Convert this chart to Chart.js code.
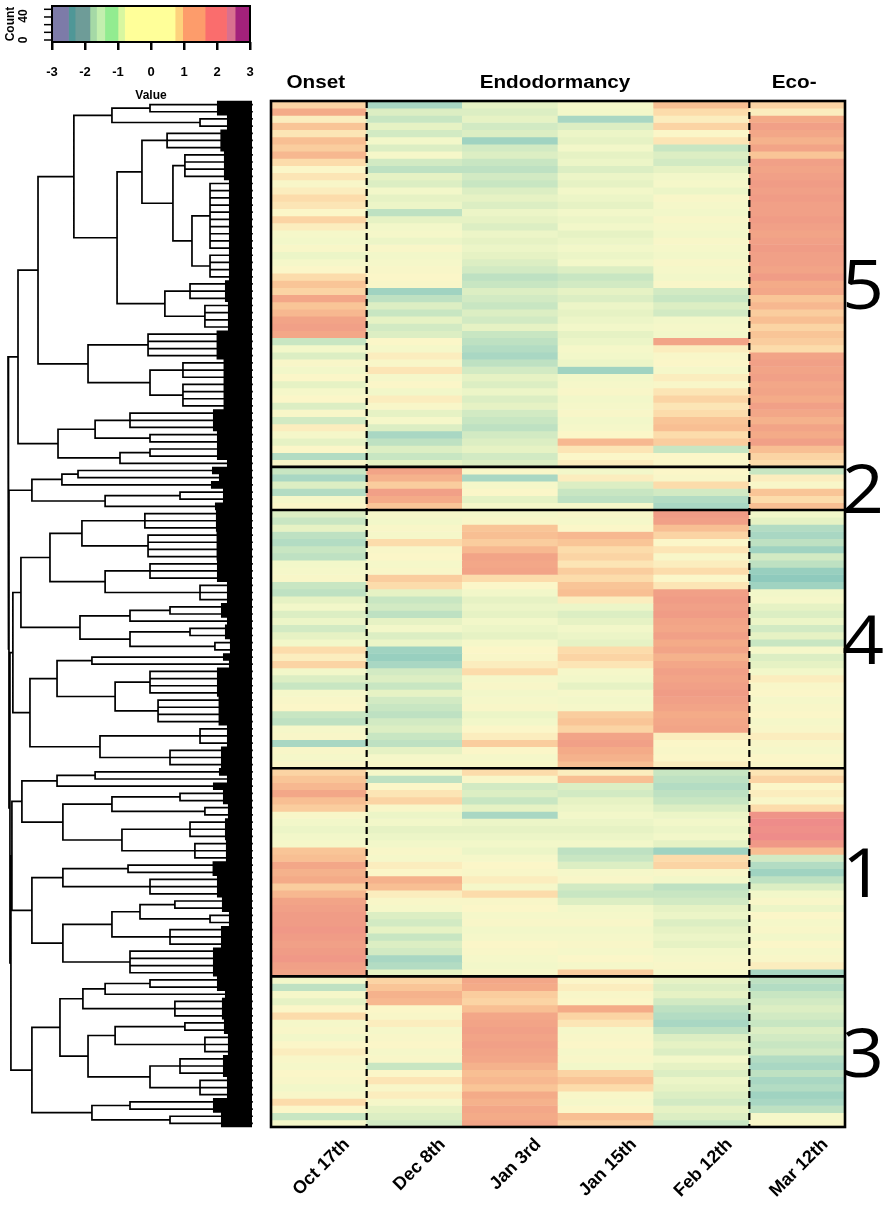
<!DOCTYPE html>
<html>
<head>
<meta charset="utf-8">
<script src="https://cdn.jsdelivr.net/npm/chart.js@4.4.1/dist/chart.umd.min.js"></script>
<style>
  body { margin: 0; background: #fff; }
  #wrap { position: relative; width: 886px; height: 1207px; overflow: hidden; background: #fff; }
  canvas { position: absolute; }
</style>
</head>
<body>
<div id="wrap">
  <canvas id="dend" width="270" height="1207" style="left:0;top:0;width:270px;height:1207px"></canvas>
  <canvas id="heat" width="626" height="1207" style="left:260px;top:0;width:626px;height:1207px"></canvas>
  <canvas id="key" width="270" height="110" style="left:0;top:0;width:270px;height:110px"></canvas>
</div>
<script>
// ---------------- DATA ----------------
const timepoints = ['Oct 17th', 'Dec 8th', 'Jan 3rd', 'Jan 15th', 'Feb 12th', 'Mar 12th'];
const phases = ['Onset', 'Endodormancy', 'Eco-'];
const phaseFirst = [0, 1, 5];
const phaseLast = [0, 4, 5];
const clusterNames = ['5', '2', '4', '1', '3'];
const clusterSizes = [51, 6, 36, 29, 21];

// row z-scores per time point (rows ordered top to bottom)
const oct17 = [
  0.7,1.3,0.4,0.9,0.5,1.0,0.8,1.1,0.6,0.3, 0.5,0.2,0.4,0.6,0.5,0.3,0.7,0.4,0.1,0.0,
  0.2,-0.1,0.1,0.3,0.6,0.9,0.7,1.4,0.9,1.1, 1.5,1.6,1.4,-0.5,0.0,-0.3,0.2,0.0,0.3,-0.2,
  0.1,0.3,-0.3,0.2,-0.4,0.4,0.1,-0.2,0.3,-0.7, 0.2,
  -0.5,-0.8,-0.3,-0.7,0.1,0.3,
  -0.3,-0.5,-0.2,-0.6,-0.7,-0.5,-0.6,0.0,0.1,0.2, -0.5,-0.6,-0.2,0.0,-0.3,-0.1,-0.4,-0.2,0.0,0.6,
  0.4,0.7,0.0,-0.3,-0.5,0.1,0.2,0.3,-0.5,-0.6, 0.1,0.2,-0.8,0.2,0.1,0.3,
  0.7,0.9,1.1,1.4,1.0,0.8,0.2,0.0,-0.1,0.0, 0.1,0.9,1.0,1.4,1.2,1.3,0.8,1.1,1.5,1.6,
  1.7,1.7,1.8,1.7,1.6,1.7,1.8,1.6,1.5,
  0.0,-0.6,0.1,-0.2,0.3,0.6,0.1,0.2,0.0,0.3, 0.4,0.2,0.1,0.3,0.2,0.0,0.2,0.6,0.3,-0.5, 0.1
];
const dec8 = [
  -0.8,-0.3,-0.5,-0.2,-0.4,0.0,-0.3,0.1,-0.4,-0.6, -0.2,-0.3,0.0,-0.2,-0.1,-0.6,-0.2,0.0,0.1,-0.1,
  0.2,0.0,0.1,0.2,0.3,0.2,-0.9,-0.6,-0.3,-0.5, -0.2,-0.4,-0.3,0.3,0.1,0.4,0.2,0.5,0.1,0.3,
  0.0,0.4,0.2,-0.2,0.1,-0.3,-0.8,-0.6,-0.3,-0.5, -0.2,
  1.5,1.2,0.8,1.6,1.3,0.9,
  0.1,0.0,0.2,0.1,0.6,0.2,0.3,0.1,0.2,0.8, 0.6,-0.2,-0.5,-0.4,-0.6,-0.2,0.0,-0.3,-0.1,-0.9,
  -1.0,-0.8,-0.4,-0.3,-0.5,-0.2,-0.4,-0.5,-0.6,-0.4, -0.3,-0.5,-0.6,-0.2,0.1,0.2,
  0.1,-0.6,0.3,0.5,0.7,0.2,-0.1,0.0,-0.2,-0.1, 0.0,0.2,0.1,0.4,0.3,1.2,1.0,0.4,0.2,0.1,
  -0.3,-0.4,-0.2,-0.5,-0.3,-0.4,-0.8,-0.7,-0.2,
  0.7,0.9,1.2,1.1,0.3,0.2,0.4,0.1,0.2,0.3, 0.1,0.2,-0.5,0.3,0.5,0.2,0.4,0.1,-0.2,-0.3, -0.4
];
const jan3 = [
  -0.2,-0.3,-0.2,-0.4,-0.3,-0.9,-0.4,-0.3,-0.5,-0.6, -0.4,-0.5,-0.3,-0.2,-0.3,-0.1,-0.2,-0.3,-0.1,-0.2,
  -0.1,-0.2,-0.3,-0.4,-0.6,-0.5,-0.3,-0.4,-0.5,-0.3, -0.4,-0.2,-0.5,-0.6,-0.7,-0.8,-0.6,-0.4,-0.2,-0.3,
  -0.1,-0.3,-0.2,-0.4,-0.5,-0.6,-0.4,-0.3,-0.2,-0.4, -0.3,
  0.2,-0.8,0.1,0.3,-0.2,0.1,
  0.1,0.2,0.9,1.0,0.8,1.1,1.5,1.4,1.5,0.6, 0.3,0.0,-0.2,-0.1,-0.2,0.0,-0.1,-0.2,0.1,0.3,
  0.2,0.4,0.6,0.1,0.2,0.0,0.1,0.2,-0.1,0.0, 0.3,0.4,0.8,0.3,0.1,0.2,
  0.6,0.2,-0.4,-0.3,-0.5,-0.2,-0.8,-0.1,-0.2,-0.1, 0.0,-0.1,0.1,0.3,0.2,0.4,0.1,0.6,0.2,0.3,
  0.1,0.2,0.0,0.1,0.3,0.2,0.1,0.0,0.2,
  1.4,1.3,0.8,0.7,1.0,1.4,1.5,1.6,1.5,1.6, 1.5,1.4,1.2,1.0,1.1,0.9,1.3,1.2,1.4,1.3, 1.5
];
const jan15 = [
  0.1,0.0,-0.8,-0.3,-0.1,-0.2,0.0,-0.2,-0.1,-0.3, -0.1,-0.2,0.0,-0.1,-0.2,0.0,-0.1,0.0,-0.2,-0.1,
  0.0,-0.1,0.0,-0.3,-0.5,-0.4,-0.2,-0.3,-0.1,-0.2, -0.1,0.0,-0.2,-0.1,0.1,0.0,-0.1,-0.9,0.0,0.1,
  0.2,0.0,0.1,0.2,0.0,0.1,0.3,1.1,0.5,0.3, 0.4,
  0.0,0.4,-0.3,-0.5,-0.6,0.1,
  0.2,0.1,0.3,1.1,0.9,0.6,0.7,0.5,0.8,0.6, 0.9,1.0,0.4,-0.1,-0.3,-0.2,0.0,-0.1,-0.2,0.6,
  0.7,0.5,0.1,0.0,-0.2,0.1,0.0,0.1,0.8,0.9, 0.7,1.5,1.6,1.3,1.2,1.0,
  0.4,1.0,-0.3,-0.4,-0.2,-0.1,0.0,-0.1,-0.2,-0.1, 0.0,-0.6,-0.5,-0.3,0.1,0.2,-0.4,-0.5,-0.3,0.0,
  0.1,0.2,0.0,0.1,0.2,0.1,0.3,0.1,0.8,
  0.3,0.4,0.2,0.3,1.3,0.7,0.5,0.1,0.2,0.3, 0.1,0.2,0.0,0.7,0.9,0.6,0.2,0.1,0.3,1.0, 0.8
];
const feb12 = [
  1.0,0.6,0.4,0.7,0.3,0.5,-0.5,-0.3,-0.4,-0.2, 0.0,0.1,-0.1,0.2,0.1,0.0,0.2,0.1,0.0,0.2,
  0.1,0.0,0.2,0.1,0.0,0.2,-0.4,-0.5,-0.3,-0.4, 0.0,0.1,0.0,1.5,0.4,0.2,0.3,0.1,0.4,0.2,
  0.5,0.7,0.5,0.6,0.9,1.0,0.6,0.8,-0.5,0.3, 0.2,
  0.3,0.2,0.6,-0.4,-0.7,-0.8,
  1.7,1.6,1.0,0.7,0.3,0.5,0.2,0.4,0.6,0.3, 0.5,1.6,1.7,1.6,1.7,1.5,1.4,1.6,1.3,1.5,
  1.2,1.4,1.6,1.5,1.6,1.7,1.6,1.5,1.3,1.4, 1.5,0.4,0.3,0.2,0.3,0.4,
  -0.5,-0.6,-0.7,-0.6,-0.5,-0.3,-0.1,0.0,-0.1,0.0, -0.2,-0.9,0.6,0.7,0.2,0.0,-0.6,-0.5,-0.4,-0.2,
  -0.1,-0.3,-0.2,-0.1,-0.2,0.0,0.1,0.2,0.1,
  -0.2,-0.3,-0.2,-0.4,-0.6,-0.7,-0.8,-0.6,-0.3,-0.2, -0.3,0.0,-0.2,-0.3,-0.1,-0.2,-0.3,-0.4,-0.2,-0.3, -0.5
];
const mar12 = [
  0.7,0.4,1.3,1.6,1.4,1.2,1.5,0.9,1.6,1.5, 1.6,1.7,1.6,1.7,1.6,1.6,1.7,1.6,1.5,1.6,
  1.7,1.6,1.6,1.5,1.7,1.3,1.4,0.9,1.1,0.8, 1.0,0.7,0.9,0.8,0.6,1.5,1.6,1.5,1.6,1.4,
  1.5,1.3,1.6,1.4,1.2,1.5,1.3,1.6,1.0,0.7, 0.6,
  -0.5,0.4,0.2,0.9,0.6,1.0,
  0.0,-0.2,-0.7,-0.8,-0.6,-0.9,-0.4,-0.6,-1.0,-1.1, -0.9,0.0,0.1,-0.2,-0.3,-0.1,-0.4,-0.2,-0.5,0.1,
  -0.3,-0.2,0.0,0.4,0.2,0.3,0.1,0.2,0.3,0.1, 0.2,0.4,0.2,0.1,0.3,0.2,
  0.5,0.7,0.3,0.4,0.2,0.6,1.9,2.1,2.0,2.1, 1.8,1.0,-0.4,-0.7,-0.9,-0.6,-0.3,0.0,0.2,-0.1,
  0.3,0.1,0.2,0.0,0.3,0.1,0.2,0.4,-0.8,
  -0.6,-0.7,-0.5,-0.4,-0.3,-0.4,-0.5,-0.3,-0.4,-0.5, -0.4,-0.7,-0.8,-0.6,-0.8,-0.7,-0.9,-0.8,-0.6,0.1, 0.2
];
const columns = [oct17, dec8, jan3, jan15, feb12, mar12];

// colour key
const keyTicks = [-3, -2, -1, 0, 1, 2, 3];
const keyBreaks = [-3, -2.5, -2.3, -1.85, -1.65, -1.4, -1.0, -0.8, 0.73, 0.96, 1.64, 2.29, 2.55, 3];
const keyColors = ['#7d7ba8', '#4f9797', '#6e9c98', '#a5d9a6', '#c3efae', '#92ec90', '#d8f7a0',
                   '#ffff99', '#fdd27c', '#fd9c6b', '#fa6d6d', '#d9708f', '#a3217b'];
const countTicks = [0, 10, 20, 30, 40];
const countLabels = [0, 40];

// dendrogram: internal node = [height, left, right]; leaf bundle = [height, number of rows]
const tree5 = [95.9,
  [87.7,
    [73.0,
      [57.4, [41.8, 2], [21.3, 2]],
      [55.3,
        [45.1, [34.8, 3], [32.4, [27.5, 4], [24.6, [17.2, 10], [17.2, 4]]]],
        [35.7, [25.4, 3], [19.3, 4]]]],
    [67.2, [42.6, 4], [41.8, [28.3, 3], [28.3, 4]]]],
  [79.5, [64.3, [50.0, 3], [41.8, 2]], [54.1, [41.8, 2], [21.3, 1]]]];
const tree2 = [90.2, [77.9, [71.3, [52.0, 1], [37.7, 1]], [54.1, 1]], [60.2, [29.5, 2], [45.9, 1]]];
const tree4 = [98.0,
  [94.7,
    [82.8, [69.7, [43.9, 3], [42.6, 4]], [60.2, [41.8, 3], [21.3, 3]]],
    [70.5, [50.0, [33.6, 2], [21.3, 1]], [50.0, [25.4, 2], [15.2, 2]]]],
  [91.0,
    [79.9, [65.6, [29.5, 1], [17.2, 1]], [56.1, [41.8, 4], [38.5, 4]]],
    [62.3, [21.3, 3], [33.6, 3]]]];
const tree1 = [98.4,
  [94.3,
    [79.9, [64.3, [37.7, 1], [21.3, 1]], [50.0, 1]],
    [77.5, [57.4, [29.5, 2], [19.3, 2]], [53.3, [25.4, 3], [23.4, 3]]]],
  [90.2,
    [77.5, [50.8, 2], [41.8, 3]],
    [77.5, [57.4, [45.9, [31.6, 2], [17.2, 2]], [33.6, 3]], [50.0, 4]]]];
const tree3 = [90.2,
  [78.7,
    [69.3, [60.2, [41.8, 2], [25.4, 1]], [31.6, 3]],
    [67.2, [56.1, [27.5, 2], [19.3, 3]], [41.8, [29.5, 3], [21.3, 3]]]],
  [65.6, [50.0, 2], [33.6, 2]]];
const topMergeHeights = [100, 99.6, 99.2, 98.8];

// ---------------- HELPERS ----------------
Chart.defaults.font.family = '"Liberation Sans", Arial, sans-serif';
Chart.defaults.color = '#000';
const nRows = clusterSizes.reduce((a, b) => a + b, 0);

const heatStops = [-1.2, -0.8, -0.5, -0.2, 0.0, 0.3, 0.6, 0.9, 1.3, 1.7, 2.1];
const heatCols = ['#86c6bb', '#a9d7c3', '#c8e6c2', '#e6f2c4', '#f2f7c9', '#fbf6c8', '#fcdcab', '#f9c597', '#f4ab88', '#f09c86', '#ee8c8a'];
function hex(c) { return [parseInt(c.slice(1, 3), 16), parseInt(c.slice(3, 5), 16), parseInt(c.slice(5, 7), 16)]; }
function colorFor(v) {
  if (v <= heatStops[0]) return heatCols[0];
  if (v >= heatStops[heatStops.length - 1]) return heatCols[heatCols.length - 1];
  for (let i = 0; i < heatStops.length - 1; i++) {
    if (v <= heatStops[i + 1]) {
      const t = (v - heatStops[i]) / (heatStops[i + 1] - heatStops[i]);
      const a = hex(heatCols[i]), b = hex(heatCols[i + 1]);
      return 'rgb(' + a.map((x, k) => Math.round(x + (b[k] - x) * t)).join(',') + ')';
    }
  }
}

// ---------------- DENDROGRAM ----------------
const fullTree = [topMergeHeights[0], tree5,
  [topMergeHeights[1], tree2,
    [topMergeHeights[2], tree4,
      [topMergeHeights[3], tree1, tree3]]]];
const treePts = [], densePts = [];
let cursor = 0;
function brk(a) { a.push({ x: null, y: null }); }
function layout(node) {
  const h = node[0];
  if (typeof node[1] === 'number') {
    const n = node[1], r0 = cursor;
    cursor += n;
    const y0 = r0 + 0.5, y1 = r0 + n - 0.5;
    if (n > 1) { treePts.push({ x: h, y: y0 }, { x: h, y: y1 }); brk(treePts); }
    const dense = Math.min(h, 6 + h * 0.2);
    for (let r = r0; r < r0 + n; r++) {
      treePts.push({ x: h, y: r + 0.5 }, { x: 0, y: r + 0.5 }); brk(treePts);
      densePts.push({ x: dense, y: r + 0.5 }, { x: 0, y: r + 0.5 }); brk(densePts);
    }
    return { h, y: (y0 + y1) / 2 };
  }
  const a = layout(node[1]), b = layout(node[2]);
  treePts.push({ x: a.h, y: a.y }, { x: h, y: a.y }, { x: h, y: b.y }, { x: b.h, y: b.y }); brk(treePts);
  return { h, y: (a.y + b.y) / 2 };
}
layout(fullTree);

new Chart(document.getElementById('dend'), {
  type: 'scatter',
  data: {
    datasets: [
      { data: densePts, showLine: true, spanGaps: false, borderColor: '#000', borderWidth: 7.6,
        borderCapStyle: 'butt', pointRadius: 0, clip: false },
      { data: treePts, showLine: true, spanGaps: false, borderColor: '#000', borderWidth: 1.7,
        borderJoinStyle: 'miter', borderCapStyle: 'square', pointRadius: 0, clip: false }
    ]
  },
  options: {
    responsive: false, animation: false, events: [],
    layout: { padding: { left: 8, right: 18, top: 101, bottom: 80 } },
    plugins: { legend: { display: false }, tooltip: { enabled: false } },
    scales: {
      x: { type: 'linear', min: 0, max: 100, reverse: true, display: false },
      y: { type: 'linear', min: 0, max: nRows, reverse: true, display: false }
    }
  }
});

// ---------------- HEATMAP ----------------
const heatSets = [];
for (let r = 0; r < nRows; r++) {
  heatSets.push({
    data: timepoints.map(() => 1),
    backgroundColor: columns.map(col => colorFor(col[r])),
    borderWidth: 0, barPercentage: 1, categoryPercentage: 1, stack: 'rows'
  });
}
const heatDecor = {
  id: 'heatDecor',
  afterDatasetsDraw(chart) {
    const { ctx, chartArea: a, scales: { x, y } } = chart;
    ctx.save();
    ctx.strokeStyle = '#000';
    ctx.lineWidth = 2.6;
    let cum = 0;
    for (let i = 0; i < clusterSizes.length - 1; i++) {
      cum += clusterSizes[i];
      const py = y.getPixelForValue(cum);
      ctx.beginPath(); ctx.moveTo(a.left, py); ctx.lineTo(a.right, py); ctx.stroke();
    }
    ctx.setLineDash([7, 4]);
    ctx.lineWidth = 2.2;
    for (let p = 1; p < phases.length; p++) {
      const b = phaseFirst[p];
      const px = (x.getPixelForValue(b - 1) + x.getPixelForValue(b)) / 2;
      ctx.beginPath(); ctx.moveTo(px, a.top); ctx.lineTo(px, a.bottom); ctx.stroke();
    }
    ctx.setLineDash([]);
    ctx.lineWidth = 2.6;
    ctx.strokeRect(a.left, a.top, a.right - a.left, a.bottom - a.top);
    ctx.fillStyle = '#000';
    ctx.font = 'bold 18px "Liberation Sans", Arial, sans-serif';
    ctx.textAlign = 'center'; ctx.textBaseline = 'middle';
    for (let p = 0; p < phases.length; p++) {
      const cx = (x.getPixelForValue(phaseFirst[p]) + x.getPixelForValue(phaseLast[p])) / 2;
      ctx.save(); ctx.translate(cx - 3, a.top - 18); ctx.scale(1.15, 1);
      ctx.fillText(phases[p], 0, 0); ctx.restore();
    }
    ctx.font = '400 68px "Open Sans", "DejaVu Sans", sans-serif';
    ctx.textBaseline = 'alphabetic';
    cum = 0;
    for (let i = 0; i < clusterSizes.length; i++) {
      const cy = y.getPixelForValue(cum + clusterSizes[i] / 2);
      cum += clusterSizes[i];
      ctx.save(); ctx.translate(a.right + 18, cy + 25); ctx.scale(1.08, 1);
      ctx.fillText(clusterNames[i], 0, 0); ctx.restore();
    }
    ctx.restore();
  }
};
new Chart(document.getElementById('heat'), {
  type: 'bar',
  data: { labels: timepoints, datasets: heatSets },
  options: {
    responsive: false, animation: false, events: [],
    layout: { padding: { left: 11, right: 41, top: 101, bottom: 10 } },
    plugins: { legend: { display: false }, tooltip: { enabled: false } },
    scales: {
      x: {
        stacked: true, offset: true,
        grid: { display: false, drawTicks: false }, border: { display: false },
        ticks: { minRotation: 45, maxRotation: 45, padding: 7, labelOffset: 28,
                 font: { weight: 'bold', size: 18 }, color: '#000' },
        afterFit(s) { s.height = 70; }
      },
      y: { stacked: true, min: 0, max: nRows, reverse: true, display: false }
    }
  },
  plugins: [heatDecor]
});

// ---------------- COLOUR KEY ----------------
const keyFrame = {
  id: 'keyFrame',
  afterDatasetsDraw(chart) {
    const { ctx, chartArea: a, scales: { y } } = chart;
    ctx.save(); ctx.strokeStyle = '#000'; ctx.fillStyle = '#000';
    ctx.lineWidth = 2;
    ctx.strokeRect(a.left, a.top, a.right - a.left, a.bottom - a.top);
    ctx.lineWidth = 1.5;
    countTicks.forEach(v => {
      const py = y.getPixelForValue(v);
      ctx.beginPath(); ctx.moveTo(a.left - 8, py); ctx.lineTo(a.left, py); ctx.stroke();
    });
    ctx.font = 'bold 12px "Liberation Sans", Arial, sans-serif';
    ctx.textBaseline = 'middle';
    countLabels.forEach(v => {
      const py = y.getPixelForValue(v);
      ctx.save(); ctx.translate(a.left - 28, py); ctx.rotate(-Math.PI / 2);
      ctx.textAlign = v === 0 ? 'center' : 'right';
      ctx.fillText(String(v), 0, 0); ctx.restore();
    });
    ctx.save(); ctx.translate(11, (a.top + a.bottom) / 2); ctx.rotate(-Math.PI / 2);
    ctx.textAlign = 'center'; ctx.fillText('Count', 0, 0); ctx.restore();
    ctx.restore();
  }
};
new Chart(document.getElementById('key'), {
  type: 'bar',
  data: {
    labels: ['key'],
    datasets: keyColors.map((c, i) => ({
      data: [[keyBreaks[i], keyBreaks[i + 1]]], backgroundColor: c, yAxisID: 'yBar',
      grouped: false, barPercentage: 1, categoryPercentage: 1, borderWidth: 0
    }))
  },
  options: {
    indexAxis: 'y', responsive: false, animation: false, events: [],
    layout: { padding: { left: 52, right: 20, top: 6, bottom: 0 } },
    plugins: { legend: { display: false }, tooltip: { enabled: false } },
    scales: {
      x: {
        type: 'linear', min: keyTicks[0], max: keyTicks[keyTicks.length - 1], position: 'bottom',
        afterBuildTicks(s) { s.ticks = keyTicks.map(v => ({ value: v })); },
        ticks: { padding: 15, autoSkip: false, font: { weight: 'bold', size: 13 }, color: '#000' },
        grid: { drawOnChartArea: false, drawTicks: true, tickLength: 8, lineWidth: 2.5, color: '#000' },
        border: { display: false },
        title: { display: true, text: 'Value', font: { weight: 'bold', size: 12 }, padding: { top: 0, bottom: 7 }, color: '#000' },
        afterFit(s) { s.height = 68; }
      },
      yBar: { type: 'category', display: false },
      y: { type: 'linear', display: false, offset: false, min: -2.6, max: 44.3 }
    }
  },
  plugins: [keyFrame]
});
</script>
</body>
</html>
